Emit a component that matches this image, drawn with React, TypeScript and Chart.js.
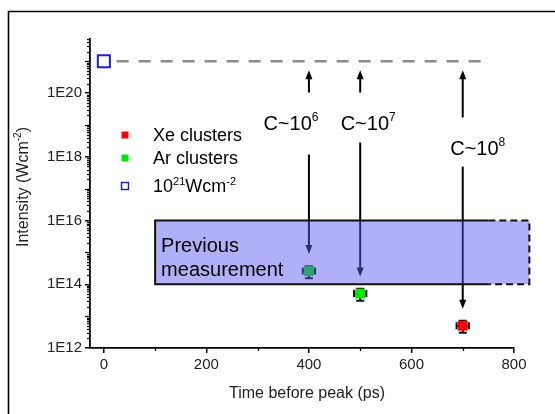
import React, { useEffect, useRef } from 'react';
import { Chart, registerables } from 'chart.js';

Chart.register(...registerables);

// ---------------- data ----------------
const xeTimes = [700];
const xeIntensity = [5.0e12];
const xeLow = [3.0e12];
const xeHigh = [7.2e12];

const arTimes = [400, 500];
const arIntensity = [2.6e14, 5.1e13];
const arLow = [1.56e14, 3.05e13];
const arHigh = [3.7e14, 7.3e13];

const timeError = 12; // ps

const refTimes = [0];
const refIntensity = [1e21];

const refLineTimes = [25, 740];
const refLineIntensity = [1e21, 1e21];

const prevTimes = [100, 830];
const prevSolidEnd = 750;
const prevIntensity = [1e14, 1e16];

const arrowTimes = [400, 500, 700];
const arrowTargets = [2.6e14, 5.1e13, 5.0e12];
const arrowTop = 5.2e20;
const clusterExponents = ['6', '7', '8'];

const xTicks = [0, 200, 400, 600, 800];
const xMinorTicks = [100, 300, 500, 700];
const yTickExponents = [12, 14, 16, 18, 20];

const legendLabels = ['Xe clusters', 'Ar clusters'];

// ---------------- helpers ----------------
const FAMILY = '"Liberation Sans", Arial, sans-serif';
type Part = { t: string; sup?: boolean };

function partFont(size: number, sup?: boolean) {
  return `${sup ? Math.round(size * 0.6) : size}px ${FAMILY}`;
}
function richWidth(ctx: CanvasRenderingContext2D, parts: Part[], size: number) {
  let w = 0;
  for (const p of parts) {
    ctx.font = partFont(size, p.sup);
    w += ctx.measureText(p.t).width;
  }
  return w;
}
function drawRich(
  ctx: CanvasRenderingContext2D,
  parts: Part[],
  x: number,
  cy: number,
  size: number,
  align: 'left' | 'center',
  color = '#000'
) {
  ctx.save();
  ctx.fillStyle = color;
  ctx.textBaseline = 'alphabetic';
  ctx.textAlign = 'left';
  let cx = align === 'center' ? x - richWidth(ctx, parts, size) / 2 : x;
  const base = cy + size * 0.716 / 2;
  for (const p of parts) {
    ctx.font = partFont(size, p.sup);
    ctx.fillText(p.t, cx, p.sup ? base - size * 0.42 : base);
    cx += ctx.measureText(p.t).width;
  }
  ctx.restore();
}
function arrowHead(ctx: CanvasRenderingContext2D, x: number, tipY: number, dir: number) {
  ctx.beginPath();
  ctx.moveTo(x, tipY);
  ctx.lineTo(x - 3.5, tipY - dir * 9);
  ctx.lineTo(x + 3.5, tipY - dir * 9);
  ctx.closePath();
  ctx.fill();
}

const overlay = {
  id: 'overlay',
  beforeDatasetsDraw(chart: any) {
    const ctx: CanvasRenderingContext2D = chart.ctx;
    const xs = chart.scales.x;
    const ys = chart.scales.y;
    ctx.save();
    ctx.strokeStyle = '#111';
    ctx.lineWidth = 2;
    const bars = (times: number[], vals: number[], lo: number[], hi: number[]) => {
      times.forEach((t, i) => {
        const px = xs.getPixelForValue(t);
        const py = ys.getPixelForValue(vals[i]);
        const pl = ys.getPixelForValue(lo[i]);
        const ph = ys.getPixelForValue(hi[i]);
        const xl = xs.getPixelForValue(t - timeError);
        const xh = xs.getPixelForValue(t + timeError);
        ctx.beginPath();
        ctx.moveTo(px, ph); ctx.lineTo(px, pl);
        ctx.moveTo(px - 4, pl); ctx.lineTo(px + 4, pl);
        ctx.moveTo(px - 4, ph); ctx.lineTo(px + 4, ph);
        ctx.moveTo(xl, py); ctx.lineTo(xh, py);
        ctx.moveTo(xl, py - 3.5); ctx.lineTo(xl, py + 3.5);
        ctx.moveTo(xh, py - 3.5); ctx.lineTo(xh, py + 3.5);
        ctx.stroke();
      });
    };
    bars(xeTimes, xeIntensity, xeLow, xeHigh);
    bars(arTimes, arIntensity, arLow, arHigh);
    ctx.restore();
  },
  afterDatasetsDraw(chart: any) {
    const ctx: CanvasRenderingContext2D = chart.ctx;
    const xs = chart.scales.x;
    const ys = chart.scales.y;
    const area = chart.chartArea;
    ctx.save();

    // minor ticks on y (log) axis
    ctx.strokeStyle = '#000';
    ctx.lineWidth = 1.3;
    for (let e = 12; e <= 21; e++) {
      for (let m = 1; m <= 9; m++) {
        const v = m * Math.pow(10, e);
        if (v > ys.max * 1.0001) continue;
        if (m === 1 && e % 2 === 0) continue;
        const py = Math.round(ys.getPixelForValue(v)) + 0.5;
        const len = m === 1 ? 5 : 3;
        ctx.beginPath();
        ctx.moveTo(area.left - len, py);
        ctx.lineTo(area.left, py);
        ctx.stroke();
      }
    }
    // minor ticks on x axis
    xMinorTicks.forEach((t) => {
      const px = Math.round(xs.getPixelForValue(t)) + 0.5;
      ctx.beginPath();
      ctx.moveTo(px, area.bottom);
      ctx.lineTo(px, area.bottom + 3);
      ctx.stroke();
    });

    // arrows
    ctx.fillStyle = '#000';
    ctx.strokeStyle = '#000';
    ctx.lineWidth = 2;
    const labelCfg = [
      { dx: -18, cy: 122.5, gapTop: 30, gapBot: 32 },
      { dx: 8, cy: 122.5, gapTop: 30, gapBot: 20 },
      { dx: 15, cy: 147.5, gapTop: 30, gapBot: 19 },
    ];
    arrowTimes.forEach((t, i) => {
      const px = xs.getPixelForValue(t);
      const top = ys.getPixelForValue(arrowTop);
      const target = ys.getPixelForValue(arrowTargets[i]) - 17;
      const cfg = labelCfg[i];
      ctx.beginPath();
      ctx.moveTo(px, cfg.cy - cfg.gapTop);
      ctx.lineTo(px, top + 6);
      ctx.moveTo(px, cfg.cy + cfg.gapBot);
      ctx.lineTo(px, target - 6);
      ctx.stroke();
      arrowHead(ctx, px, top, -1);
      arrowHead(ctx, px, target, 1);
      drawRich(ctx, [{ t: 'C~10' }, { t: clusterExponents[i], sup: true }], px + cfg.dx, cfg.cy, 20, 'center');
    });

    // previous measurement box
    const bx0 = xs.getPixelForValue(prevTimes[0]);
    const bx1 = xs.getPixelForValue(prevTimes[1]);
    const bxs = xs.getPixelForValue(prevSolidEnd);
    const by0 = ys.getPixelForValue(prevIntensity[1]);
    const by1 = ys.getPixelForValue(prevIntensity[0]);
    ctx.fillStyle = 'rgba(90, 90, 240, 0.48)';
    ctx.fillRect(bx0, by0, bx1 - bx0, by1 - by0);
    ctx.strokeStyle = '#111';
    ctx.lineWidth = 2;
    ctx.beginPath();
    ctx.moveTo(bxs, by0);
    ctx.lineTo(bx0, by0);
    ctx.lineTo(bx0, by1);
    ctx.lineTo(bxs, by1);
    ctx.stroke();
    ctx.setLineDash([7, 4]);
    ctx.beginPath();
    ctx.moveTo(bxs, by0);
    ctx.lineTo(bx1, by0);
    ctx.lineTo(bx1, by1);
    ctx.lineTo(bxs, by1);
    ctx.stroke();
    ctx.setLineDash([]);
    drawRich(ctx, [{ t: 'Previous' }], bx0 + 6, by0 + 24, 20, 'left');
    drawRich(ctx, [{ t: 'measurement' }], bx0 + 6, by0 + 48, 20, 'left');

    // legend
    const lx = 125;
    const lys = [135, 158, 186];
    ctx.fillStyle = '#ff0000';
    ctx.fillRect(lx - 3.5, lys[0] - 3.5, 7, 7);
    ctx.fillStyle = '#00e600';
    ctx.fillRect(lx - 3.5, lys[1] - 3.5, 7, 7);
    ctx.strokeStyle = '#2020c8';
    ctx.lineWidth = 1.5;
    ctx.strokeRect(lx - 3.5, lys[2] - 3.5, 7, 7);
    drawRich(ctx, [{ t: legendLabels[0] }], 153, lys[0], 18, 'left');
    drawRich(ctx, [{ t: legendLabels[1] }], 153, lys[1], 18, 'left');
    drawRich(ctx, [{ t: '10' }, { t: '21', sup: true }, { t: 'Wcm' }, { t: '-2', sup: true }], 153, lys[2], 18, 'left');

    // axis titles
    drawRich(ctx, [{ t: 'Time before peak (ps)' }], (area.left + area.right) / 2 + 5, 392, 16, 'center', '#222');
    ctx.save();
    ctx.translate(22, 247);
    ctx.rotate(-Math.PI / 2);
    drawRich(ctx, [{ t: 'Intensity (Wcm' }, { t: '-2', sup: true }, { t: ')' }], 0, 0, 16, 'left', '#222');
    ctx.restore();

    // outer frame
    ctx.strokeStyle = '#000';
    ctx.lineWidth = 1.6;
    ctx.beginPath();
    ctx.moveTo(8.5, 420);
    ctx.lineTo(8.5, 11.5);
    ctx.lineTo(560, 11.5);
    ctx.stroke();

    ctx.restore();
  },
};

export default function App() {
  const ref = useRef<HTMLCanvasElement>(null);
  useEffect(() => {
    if (!ref.current) return;
    const chart = new Chart(ref.current, {
      type: 'scatter',
      data: {
        datasets: [
          {
            label: 'Xe clusters',
            data: xeTimes.map((t, i) => ({ x: t, y: xeIntensity[i] })),
            pointStyle: 'rect',
            pointRadius: 7,
            backgroundColor: '#ff0000',
            borderColor: '#ff0000',
            borderWidth: 0,
          },
          {
            label: 'Ar clusters',
            data: arTimes.map((t, i) => ({ x: t, y: arIntensity[i] })),
            pointStyle: 'rect',
            pointRadius: 7,
            backgroundColor: '#00e600',
            borderColor: '#00e600',
            borderWidth: 0,
          },
          {
            label: '10^21 Wcm^-2',
            data: refTimes.map((t, i) => ({ x: t, y: refIntensity[i] })),
            pointStyle: 'rect',
            pointRadius: 8.5,
            backgroundColor: 'rgba(0,0,0,0)',
            borderColor: '#1f1fd0',
            borderWidth: 2,
          },
          {
            label: 'reference line',
            data: refLineTimes.map((t, i) => ({ x: t, y: refLineIntensity[i] })),
            showLine: true,
            pointRadius: 0,
            borderColor: '#8a8a8a',
            borderWidth: 2.5,
            borderDash: [12, 10],
          },
        ],
      },
      options: {
        responsive: false,
        animation: false,
        devicePixelRatio: 1,
        layout: { padding: { left: 0, right: 41, top: 39, bottom: 26 } },
        plugins: { legend: { display: false }, tooltip: { enabled: false } },
        scales: {
          x: {
            type: 'linear',
            min: -27,
            max: 800,
            afterBuildTicks: (s: any) => {
              s.ticks = xTicks.map((v) => ({ value: v }));
            },
            afterFit: (s: any) => {
              s.height = 40;
            },
            grid: { display: true, drawOnChartArea: false, drawTicks: true, tickLength: 5, color: '#000', lineWidth: 1.5 },
            border: { display: true, color: '#000', width: 1.8 },
            ticks: { font: { family: FAMILY, size: 15 }, color: '#222', padding: 3, maxRotation: 0, autoSkip: false },
          },
          y: {
            type: 'logarithmic',
            min: 1e12,
            max: 5e21,
            afterBuildTicks: (s: any) => {
              s.ticks = yTickExponents.map((e) => ({ value: Math.pow(10, e), major: true }));
            },
            afterFit: (s: any) => {
              s.width = 90;
            },
            grid: { display: true, drawOnChartArea: false, drawTicks: true, tickLength: 5, color: '#000', lineWidth: 1.5 },
            border: { display: true, color: '#000', width: 1.8 },
            ticks: {
              font: { family: FAMILY, size: 15 },
              color: '#222',
              padding: 3,
              autoSkip: false,
              callback: (v: any) => '1E' + Math.round(Math.log10(Number(v))),
            },
          },
        },
      },
      plugins: [overlay],
    } as any);
    return () => chart.destroy();
  }, []);
  return (
    <div>
      <canvas ref={ref} width={555} height={414} style={{ position: 'fixed', left: 0, top: 0 }} />
    </div>
  );
}
